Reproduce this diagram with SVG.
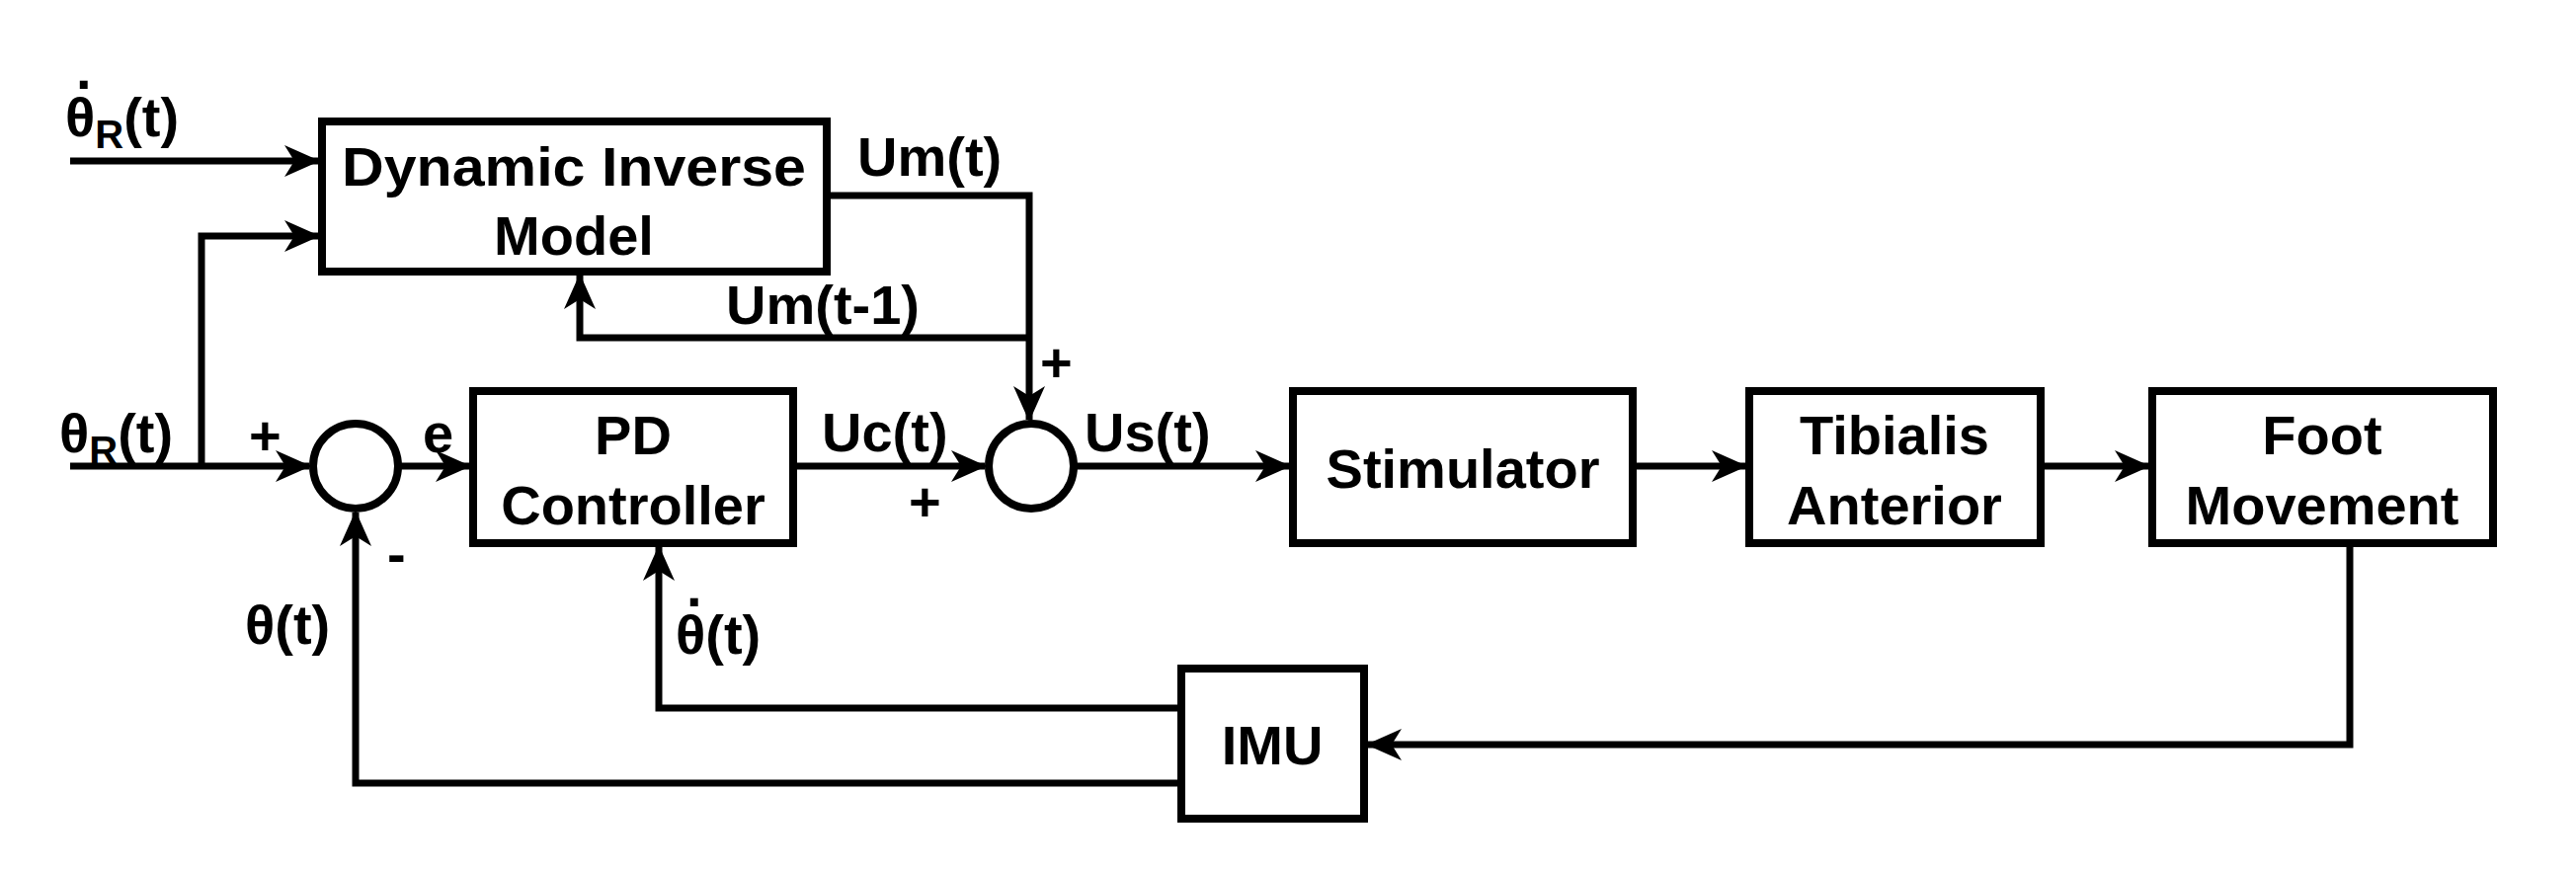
<svg xmlns="http://www.w3.org/2000/svg" width="2608" height="882" viewBox="0 0 2608 882">
<style>
.b{fill:#fff;stroke:#000;stroke-width:8}
.l{fill:none;stroke:#000;stroke-width:7;stroke-linejoin:miter}
text{font-family:"Liberation Sans",Arial,sans-serif;font-weight:bold;font-size:56px;fill:#000}
.c{text-anchor:middle}
</style>
<defs>
<marker id="a" markerUnits="userSpaceOnUse" markerWidth="36" markerHeight="36" viewBox="0 0 36 36" refX="34" refY="18" orient="auto">
<path d="M0,2 L36,18 L0,34 L10,18 Z" fill="#000"/>
</marker>
</defs>
<rect width="2608" height="882" fill="#fff"/>
<g id="dim"><rect class="b" x="326" y="123" width="511" height="152"/>
<text class="c" x="581" y="188" textLength="470" lengthAdjust="spacingAndGlyphs">Dynamic Inverse</text><text class="c" x="581" y="258">Model</text></g>
<g id="pd"><rect class="b" x="479" y="396" width="324" height="154"/>
<text class="c" x="641" y="460">PD</text><text class="c" x="641" y="531">Controller</text></g>
<g id="sum1"><circle class="b" cx="360" cy="472" r="43"/></g>
<g id="sum2"><circle class="b" cx="1044" cy="472" r="43"/></g>
<g id="stim"><rect class="b" x="1309" y="396" width="344" height="154"/>
<text class="c" x="1481" y="494">Stimulator</text></g>
<g id="tib"><rect class="b" x="1771" y="396" width="295" height="154"/>
<text class="c" x="1918" y="460">Tibialis</text><text class="c" x="1918" y="531">Anterior</text></g>
<g id="foot"><rect class="b" x="2179" y="396" width="345" height="154"/>
<text class="c" x="2351" y="460">Foot</text><text class="c" x="2351" y="531">Movement</text></g>
<g id="imu"><rect class="b" x="1196" y="677" width="185" height="152"/>
<text class="c" x="1288" y="774">IMU</text></g>
<g id="connectors">
<path class="l" d="M71,163 H322" marker-end="url(#a)"/>
<path class="l" d="M204,472 V239 H322" marker-end="url(#a)"/>
<path class="l" d="M71,472 H313" marker-end="url(#a)"/>
<path class="l" d="M403,472 H475" marker-end="url(#a)"/>
<path class="l" d="M803,472 H997" marker-end="url(#a)"/>
<path class="l" d="M837,198 H1042 V425" marker-end="url(#a)"/>
<path class="l" d="M1042,342 H587 V279" marker-end="url(#a)"/>
<path class="l" d="M1087,472 H1305" marker-end="url(#a)"/>
<path class="l" d="M1653,472 H1767" marker-end="url(#a)"/>
<path class="l" d="M2066,472 H2175" marker-end="url(#a)"/>
<path class="l" d="M2379,550 V754 H1385" marker-end="url(#a)"/>
<path class="l" d="M1196,717 H667 V554" marker-end="url(#a)"/>
<path class="l" d="M1196,793 H360 V519" marker-end="url(#a)"/>
</g>
<g id="labels">
<text x="66" y="138">θ<tspan font-size="40" dy="12">R</tspan><tspan dy="-12">(t)</tspan></text>
<text x="77" y="90">.</text>
<text x="868" y="178">Um(t)</text>
<text x="735" y="328">Um(t-1)</text>
<text x="1053" y="386" font-size="48">+</text>
<text x="60" y="458">θ<tspan font-size="40" dy="12">R</tspan><tspan dy="-12">(t)</tspan></text>
<text x="252" y="460" font-size="48">+</text>
<text x="428" y="458">e</text>
<text x="832" y="457">Uc(t)</text>
<text x="920" y="527" font-size="48">+</text>
<text x="1098" y="457">Us(t)</text>
<text x="392" y="580" font-size="48">-</text>
<text x="248" y="652">θ(t)</text>
<text x="684" y="662">θ(t)</text>
<text x="695" y="614">.</text>
</g>
</svg>
